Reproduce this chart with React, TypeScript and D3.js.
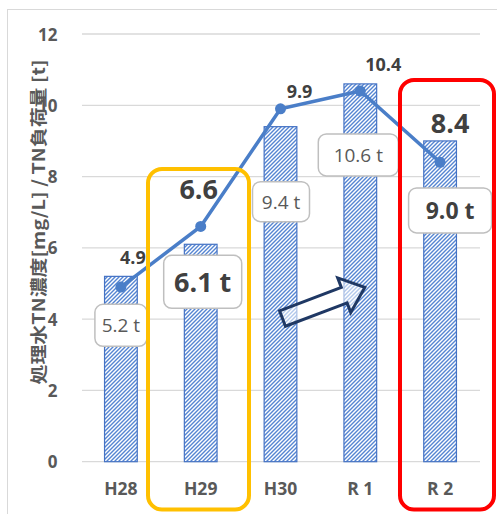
import React from "react";
import * as d3 from "d3";

const categories = ["H28", "H29", "H30", "R 1", "R 2"];
const loadValues = [5.2, 6.1, 9.4, 10.6, 9.0];
const loadLabels = ["5.2 t", "6.1 t", "9.4 t", "10.6 t", "9.0 t"];
const concValues = [4.9, 6.6, 9.9, 10.4, 8.4];
const concLabels = ["4.9", "6.6", "9.9", "10.4", "8.4"];
const yTicks = [0, 2, 4, 6, 8, 10, 12];
const yTitle = "処理水TN濃度[mg/L] / TN負荷量 [t]";

// layout (pixel offsets, sizes and styles) kept apart from the data
const lineLabelLayout = [
  { dx: 12, dy: -30, size: 18 },
  { dx: -2, dy: -38, size: 27 },
  { dx: 19, dy: -18, size: 18 },
  { dx: 23, dy: -27, size: 18 },
  { dx: 10, dy: -40, size: 27 },
];
const boxLayout = [
  { dx: 0, dy: 49, w: 52, h: 42, size: 19, bold: false },
  { dx: 2, dy: 37.5, w: 78, h: 53, size: 27, bold: true },
  { dx: 0.5, dy: 75, w: 57, h: 40, size: 19, bold: false },
  { dx: -2, dy: 71, w: 80, h: 42, size: 19, bold: false },
  { dx: 10, dy: 69.5, w: 83, h: 45, size: 23, bold: true },
];

const W = 497;
const H = 514;
const FONT = "'Open Sans', 'Noto Sans', sans-serif";
const BLUE = "#4472C4";

export default function App() {
  const x = d3
    .scaleBand<string>()
    .domain(categories)
    .range([81, 480])
    .paddingInner(0.59)
    .paddingOuter(0.295);
  const y = d3.scaleLinear().domain([0, 12]).range([461.7, 34]);
  const cx = (i: number) => (x(categories[i]) as number) + x.bandwidth() / 2;

  const line = d3
    .line<number>()
    .x((_, i) => cx(i))
    .y((d) => y(d));

  // arrow geometry
  const aLen = 88,
    aShaft = 16.5,
    aHeadW = 37,
    aHeadL = 22;
  const arrowPath = [
    [0, -aShaft / 2],
    [aLen - aHeadL, -aShaft / 2],
    [aLen - aHeadL, -aHeadW / 2],
    [aLen, 0],
    [aLen - aHeadL, aHeadW / 2],
    [aLen - aHeadL, aShaft / 2],
    [0, aShaft / 2],
  ];
  const arrowD = "M" + arrowPath.map((p) => p.join(",")).join("L") + "Z";

  return (
    <svg
      width={W}
      height={H}
      style={{ position: "absolute", left: 0, top: 0, display: "block", background: "#fff" }}
      fontFamily={FONT}
    >
      <defs>
        <pattern id="hatch" patternUnits="userSpaceOnUse" width={4} height={4}>
          <rect width={4} height={4} fill="#ffffff" />
          <path
            d="M-1,1 l2,-2 M0,4 l4,-4 M3,5 l2,-2"
            stroke="#5585d2"
            strokeWidth={1.4}
          />
        </pattern>
      </defs>
      <rect x={0} y={0} width={W} height={H} fill="#fff" />
      {/* chart frame */}
      <rect x={7.5} y={9.5} width={500} height={520} fill="none" stroke="#d9d9d9" strokeWidth={1} />

      {/* gridlines */}
      {yTicks.map((t) => (
        <line key={t} x1={82} x2={480} y1={y(t)} y2={y(t)} stroke="#d9d9d9" strokeWidth={1.3} />
      ))}
      {/* y tick labels */}
      {yTicks.map((t) => (
        <text
          key={"l" + t}
          x={57.5}
          y={y(t)}
          textAnchor="end"
          dominantBaseline="central"
          fontSize={17}
          fontWeight={700}
          fill="#595959"
        >
          {t}
        </text>
      ))}
      {/* y title */}
      <text
        transform={`translate(37,${222}) rotate(-90)`}
        textAnchor="middle"
        dominantBaseline="central"
        fontSize={17}
        fontWeight={700}
        fill="#595959"
        fontFamily="'Noto Sans CJK JP', sans-serif"
        textLength={325}
        lengthAdjust="spacingAndGlyphs"
      >
        {yTitle}
      </text>

      {/* bars */}
      {loadValues.map((v, i) => (
        <rect
          key={"b" + i}
          x={x(categories[i])}
          y={y(v)}
          width={x.bandwidth()}
          height={y(0) - y(v)}
          fill="url(#hatch)"
          stroke={BLUE}
          strokeWidth={1.2}
        />
      ))}

      {/* x labels */}
      {categories.map((c, i) => (
        <text
          key={"x" + i}
          x={cx(i)}
          y={488}
          textAnchor="middle"
          dominantBaseline="central"
          fontSize={17.5}
          fontWeight={700}
          fill="#595959"
        >
          {c}
        </text>
      ))}

      {/* line */}
      <path d={line(concValues) as string} fill="none" stroke="#4a7ec8" strokeWidth={3.5} />
      {concValues.map((v, i) => (
        <circle key={"c" + i} cx={cx(i)} cy={y(v)} r={5.5} fill="#4a7ec8" />
      ))}

      {/* line labels */}
      {concLabels.map((s, i) => (
        <text
          key={"cl" + i}
          x={cx(i) + lineLabelLayout[i].dx}
          y={y(concValues[i]) + lineLabelLayout[i].dy}
          textAnchor="middle"
          dominantBaseline="central"
          fontSize={lineLabelLayout[i].size}
          fontWeight={700}
          fill="#404040"
        >
          {s}
        </text>
      ))}

      {/* bar label boxes */}
      {loadLabels.map((s, i) => {
        const L = boxLayout[i];
        const bx = cx(i) + L.dx;
        const by = y(loadValues[i]) + L.dy;
        return (
          <g key={"bl" + i}>
            <rect
              x={bx - L.w / 2}
              y={by - L.h / 2}
              width={L.w}
              height={L.h}
              rx={8}
              fill="#fff"
              stroke="#bfbfbf"
              strokeWidth={1.5}
            />
            <text
              x={bx}
              y={by}
              textAnchor="middle"
              dominantBaseline="central"
              fontSize={L.size}
              fontWeight={L.bold ? 700 : 400}
              fill={L.bold ? "#404040" : "#595959"}
            >
              {s}
            </text>
          </g>
        );
      })}

      {/* arrow */}
      <path
        d={arrowD}
        transform={`translate(282.5,318.5) rotate(-20.7)`}
        fill="#ffffff"
        fillOpacity={0.55}
        stroke="#1f3864"
        strokeWidth={3}
        strokeLinejoin="miter"
      />

      {/* highlight frames */}
      <rect x={148} y={169} width={101} height={340.5} rx={14} fill="none" stroke="#FFC000" strokeWidth={4} />
      <rect x={400} y={80} width={94} height={429.5} rx={14} fill="none" stroke="#FF0000" strokeWidth={4} />
    </svg>
  );
}
